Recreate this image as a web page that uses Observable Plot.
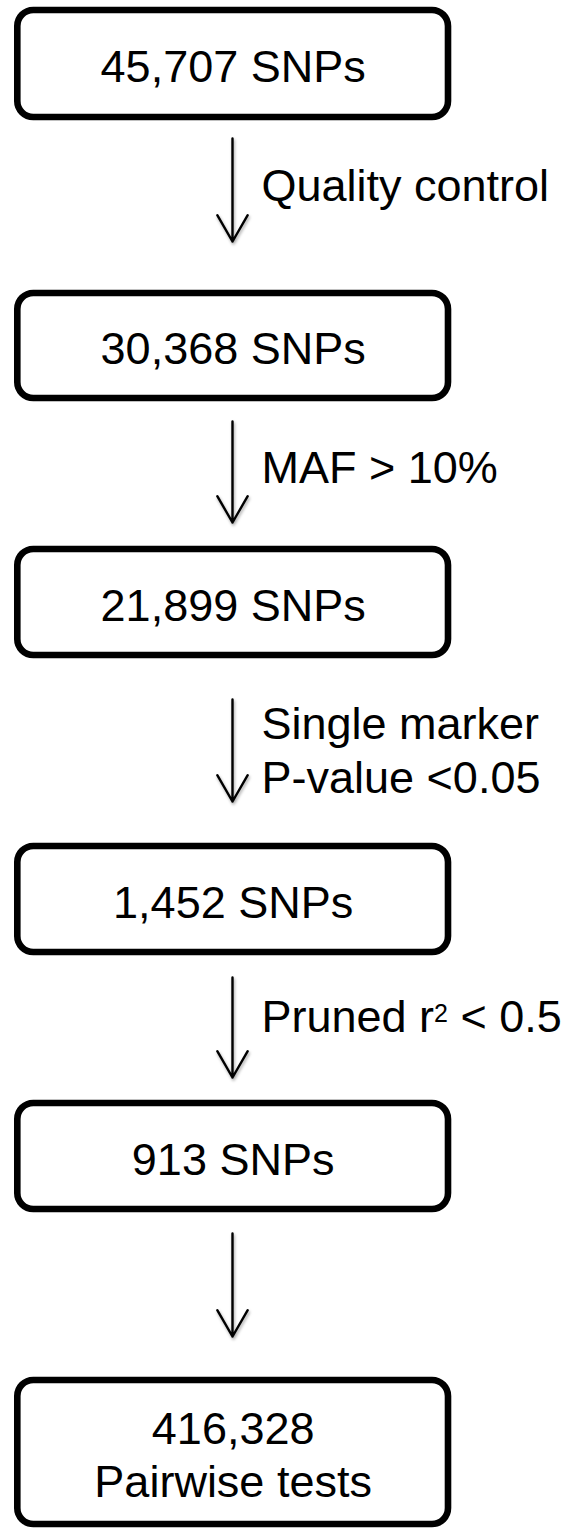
<!DOCTYPE html>
<html>
<head>
<meta charset="utf-8">
<script src="https://cdn.jsdelivr.net/npm/d3@7"></script>
<script src="https://cdn.jsdelivr.net/npm/@observablehq/plot@0.6"></script>
<style>
  html, body { margin: 0; padding: 0; background: #fff; }
  #chart svg { display: block; }
</style>
</head>
<body>
<div id="chart"></div>
<script>
// ---------------- data ----------------
const stepCounts = [
  "45,707 SNPs",
  "30,368 SNPs",
  "21,899 SNPs",
  "1,452 SNPs",
  "913 SNPs",
  "416,328\nPairwise tests"
];
const filterLabels = [
  "Quality control",
  "MAF > 10%",
  "Single marker\nP-value <0.05",
  "Pruned r\u00B2 < 0.5",
  ""
];

// ---------------- layout (diagram units, y grows downward) ----------------
const W = 567, H = 1528;
const boxLeft = 17.3, boxRight = 448;
const boxTop    = [10, 293, 549, 846, 1103, 1380];
const boxBottom = [117, 398, 655, 952, 1209, 1524];
const arrowX = 232;
const arrowStart = [138, 421, 699, 977, 1233];
const arrowEnd   = [241, 522, 801, 1077, 1336];
const labelX = 261;
const labelBaseline = [200, 482, 792, 1031, 1290];

// ---------------- tables built from the arrays ----------------
const nodes = stepCounts.map((text, i) => ({
  text,
  x1: boxLeft, x2: boxRight,
  y1: boxTop[i], y2: boxBottom[i],
  xc: (boxLeft + boxRight) / 2,
  yc: (boxTop[i] + boxBottom[i]) / 2
}));
const edges = filterLabels.map((label, i) => ({
  label,
  x: arrowX,
  y1: arrowStart[i], y2: arrowEnd[i],
  lx: labelX, ly: labelBaseline[i]
}));

const font = "'Liberation Sans', Arial, Helvetica, sans-serif";

const chart = Plot.plot({
  width: W,
  height: H,
  margin: 0,
  x: {domain: [0, W], range: [0, W], axis: null},
  y: {domain: [0, H], range: [0, H], axis: null},
  style: {background: "#fff", fontFamily: font},
  marks: [
    Plot.rect(nodes, {
      x1: "x1", x2: "x2", y1: "y1", y2: "y2",
      rx: 16, ry: 16,
      fill: "white", stroke: "black", strokeWidth: 6.6
    }),
    Plot.text(nodes, {
      x: "xc", y: "yc", text: "text",
      fontSize: 45, fontFamily: font, fill: "black",
      lineAnchor: "middle", lineHeight: 1.18, dy: 1
    }),
    Plot.arrow(edges, {
      x1: "x", x2: "x", y1: "y1", y2: "y2",
      stroke: "black", strokeWidth: 2.4,
      headAngle: 60, headLength: 19
    }),
    Plot.text(edges.filter(d => d.label), {
      x: "lx", y: "ly", text: "label",
      textAnchor: "start", lineAnchor: "bottom", lineHeight: 1.2,
      fontSize: 45, fontFamily: font, fill: "black"
    })
  ]
});

// soft shadow under the arrows, as in the original figure
chart.querySelectorAll('g[aria-label="arrow"]').forEach(g => {
  g.style.filter = "drop-shadow(1px 2px 1.5px rgba(0,0,0,0.35))";
});

// render "²" as a true superscript digit (kept as real text)
const NS = "http://www.w3.org/2000/svg";
chart.querySelectorAll("text").forEach(t => {
  if (t.children.length === 0 && t.textContent.includes("\u00B2")) {
    const [before, after] = t.textContent.split("\u00B2");
    t.textContent = "";
    const a = document.createElementNS(NS, "tspan");
    a.textContent = before;
    const s = document.createElementNS(NS, "tspan");
    s.textContent = "2";
    s.setAttribute("font-size", "25");
    s.setAttribute("dy", "-10");
    const b = document.createElementNS(NS, "tspan");
    b.textContent = after;
    b.setAttribute("dy", "10");
    t.append(a, s, b);
  }
});

document.getElementById("chart").appendChild(chart);
</script>
</body>
</html>
